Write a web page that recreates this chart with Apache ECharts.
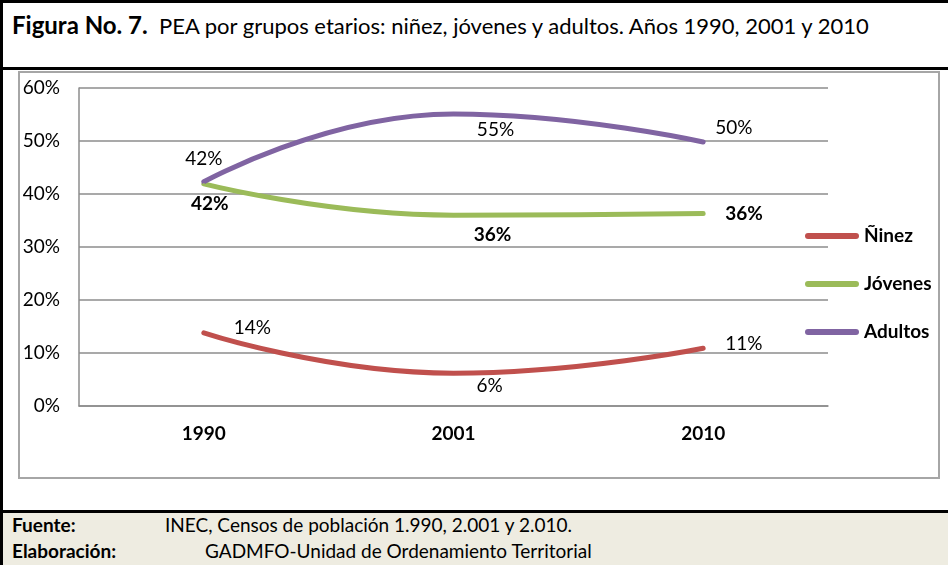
<!DOCTYPE html>
<html>
<head>
<meta charset="utf-8">
<script src="https://cdn.jsdelivr.net/npm/echarts@6/dist/echarts.min.js"></script>
<style>
    body { margin: 0; width: 948px; height: 565px; position: relative; overflow: hidden; background: #fff; font-family: Lato, "Noto Sans", sans-serif; }
    .blk { position: absolute; background: #000; }
    #chartBox { position: absolute; left: 18px; top: 71px; width: 922px; height: 408px; border: 2px solid #a6a6a6; box-sizing: border-box; }
    #footer { position: absolute; left: 3px; top: 513px; width: 945px; height: 52px; background: #eeece1; }
    .txt { position: absolute; white-space: nowrap; color: #000; line-height: 1; }
    #main { position: absolute; left: 0; top: 0; width: 948px; height: 565px; }
</style>
</head>
<body>
<div class="blk" style="left:0;top:0;width:948px;height:3px;"></div>
<div class="blk" style="left:0;top:0;width:3px;height:565px;"></div>
<div class="blk" style="left:0;top:67px;width:948px;height:3px;"></div>
<div id="chartBox"></div>
<div class="blk" style="left:0;top:510px;width:948px;height:3px;"></div>
<div id="footer"></div>

<div class="txt" style="left:12px;top:13px;font-size:22px;">
    <b style="font-size:24px;">Figura No. 7.</b>&nbsp; PEA por grupos etarios: niñez, jóvenes y adultos. Años 1990, 2001 y 2010
</div>
<div class="txt" style="left:12px;top:515px;font-size:19px;"><b>Fuente:</b></div>
<div class="txt" style="left:165px;top:515px;font-size:19px;">INEC, Censos de población 1.990, 2.001 y 2.010.</div>
<div class="txt" style="left:12px;top:541px;font-size:19px;"><b>Elaboración:</b></div>
<div class="txt" style="left:205px;top:541px;font-size:19px;">GADMFO-Unidad de Ordenamiento Territorial</div>

<div id="main"></div>
<script>
// datos
var categories = ['1990', '2001', '2010'];
var ninez = [0.138, 0.062, 0.109];
var jovenes = [0.419, 0.360, 0.363];
var adultos = [0.423, 0.551, 0.498];
var yTicks = [0, 0.1, 0.2, 0.3, 0.4, 0.5, 0.6];

(function(){
    var font = 'Lato, "Noto Sans", sans-serif';
    var gray = '#8c8c8c';

    // etiquetas: [posicion, offset] por punto
    function buildData(values, labels, bold){
        var result = [];
        for(var i = 0; i < values.length; i++){
            result.push({
                value: values[i],
                label: {
                    show: true,
                    position: labels[i][0],
                    offset: labels[i][1],
                    distance: 5,
                    fontFamily: font,
                    fontSize: 19,
                    fontWeight: bold ? 'bold' : 'normal',
                    color: '#000',
                    formatter: function(p){
                        return Math.round(p.value * 100) + '%';
                    }
                }
            });
        }
        return result;
    }

    function line(name, color, data){
        return {
            name: name,
            type: 'line',
            smooth: true,
            symbol: 'circle',
            symbolSize: 2,
            lineStyle: { width: 5, color: color, cap: 'round' },
            itemStyle: { color: color },
            data: data
        };
    }

    var legendIcon = 'path://M3,0 L51,0 A3,3 0 0 1 51,6 L3,6 A3,3 0 0 1 3,0 Z';

    var option = {
        animation: false,
        grid: { left: 79, right: 120, top: 88, bottom: 159 },
        legend: {
            orient: 'vertical',
            left: 805,
            top: 225,
            padding: 0,
            itemGap: 26,
            itemWidth: 54,
            itemHeight: 7,
            icon: legendIcon,
            textStyle: { fontFamily: font, fontSize: 19, fontWeight: 'bold', color: '#000', lineHeight: 22 },
            data: ['Ñinez', 'Jóvenes', 'Adultos']
        },
        xAxis: {
            type: 'category',
            data: categories,
            boundaryGap: true,
            axisLine: { lineStyle: { color: gray, width: 1.5 } },
            axisTick: { show: false },
            axisLabel: { fontFamily: font, fontSize: 19, fontWeight: 'bold', color: '#000', margin: 18 }
        },
        yAxis: {
            type: 'value',
            min: yTicks[0],
            max: yTicks[yTicks.length - 1],
            interval: 0.1,
            axisLine: { show: true, lineStyle: { color: gray, width: 1.5 } },
            axisTick: { show: false },
            splitLine: { lineStyle: { color: gray, width: 1.5 } },
            axisLabel: {
                fontFamily: font, fontSize: 19, color: '#000', margin: 19,
                formatter: function(v){ return Math.round(v * 100) + '%'; }
            }
        },
        series: [
            line('Ñinez', '#c0504d', buildData(ninez, [
                ['right', [24, -5]], ['bottom', [36, -3]], ['right', [16, -4]]
            ], false)),
            line('Jóvenes', '#9bbb59', buildData(jovenes, [
                ['bottom', [6, 4]], ['bottom', [39, 4]], ['right', [16, 0]]
            ], true)),
            line('Adultos', '#8064a2', buildData(adultos, [
                ['top', [0, -7]], ['bottom', [42, 0]], ['right', [6, -14]]
            ], false))
        ]
    };

    var myChart = echarts.init(document.getElementById('main'));
    myChart.setOption(option);
})();
</script>
</body>
</html>
